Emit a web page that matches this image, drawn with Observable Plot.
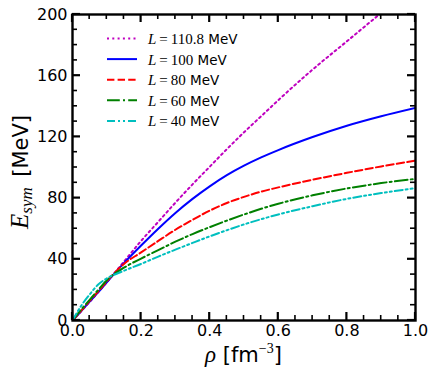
<!DOCTYPE html>
<html><head><meta charset="utf-8">
<script src="https://cdn.jsdelivr.net/npm/d3@7"></script>
<script src="https://cdn.jsdelivr.net/npm/@observablehq/plot@0.6"></script>
<style>
body{margin:0;background:#fff}
#wrap{position:relative;width:436px;height:375px}
</style>
</head><body><div id="wrap"></div>
<script>
const rho = [0, 0.025, 0.05, 0.075, 0.1, 0.15, 0.2, 0.25, 0.3, 0.35, 0.4, 0.45, 0.5, 0.55, 0.6, 0.7, 0.8, 0.9, 1.0];
const eL1108 = [0, 6, 12.2, 18.5, 25, 38.5, 52, 64.5, 77, 89, 100.5, 112, 123, 133.5, 144, 164, 182.5, 201, 219];
const eL100  = [0, 6, 12.3, 18.5, 25, 37.5, 49, 60, 70.3, 79.5, 87.7, 95, 101.2, 106.6, 111.4, 119.9, 127.3, 133.5, 139];
const eL80   = [0, 6.3, 12.8, 19, 25.5, 37, 44.5, 52, 59.3, 65.8, 71.8, 76.8, 80.8, 84.2, 87, 92, 96.5, 100.7, 104.5];
const eL60   = [0, 7, 13.5, 20, 26.3, 34.5, 40.5, 46, 51.5, 56.5, 61, 65.3, 69.3, 73, 76.3, 81.8, 86.3, 89.8, 92.6];
const eL40   = [0, 9.5, 17, 23.5, 27.5, 32.5, 37, 41.8, 46.3, 50.7, 55, 59, 62.8, 66.2, 69.3, 74.7, 79.5, 83.3, 86.5];

const labels = ["110.8", "100", "80", "60", "40"];
const colors = ["#bf00bf", "#0000ff", "#ff0000", "#008000", "#00bfbf"];
const dashes = ["2,3.3", null, "7.4,3.2", "12.8,3.2,2,3.2", "8,3,2,3,2,3"];
const values = [eL1108, eL100, eL80, eL60, eL40];

const xMajor = [0, 0.2, 0.4, 0.6, 0.8, 1.0];
const xMinor = [0.05, 0.1, 0.15, 0.25, 0.3, 0.35, 0.45, 0.5, 0.55, 0.65, 0.7, 0.75, 0.85, 0.9, 0.95];
const yMajor = [0, 40, 80, 120, 160, 200];
const yMinor = [10, 20, 30, 50, 60, 70, 90, 100, 110, 130, 140, 150, 170, 180, 190];

const W = 436, H = 375, mL = 72, mR = 21, mT = 14, mB = 55;
const majL = 8, minL = 5;

const lineMarks = values.map((v, k) => Plot.line(rho.map((r, i) => ({rho: r, E: v[i]})), {
  x: "rho", y: "E", stroke: colors[k], strokeWidth: 2,
  strokeDasharray: dashes[k] || undefined, curve: "monotone-x", clip: true
}));

const chart = Plot.plot({
  width: W, height: H,
  marginLeft: mL, marginRight: mR, marginTop: mT, marginBottom: mB,
  x: {domain: [0, 1]},
  y: {domain: [0, 200]},
  style: {fontFamily: "DejaVu Sans", fontSize: "16px", color: "black", background: "white"},
  marks: [
    ...lineMarks,
    Plot.axisX(xMajor, {anchor: "bottom", tickSize: 0, tickPadding: 4, tickFormat: d3.format(".1f"), label: null, fontSize: 16}),
    Plot.axisY(yMajor, {anchor: "left", tickSize: 0, tickPadding: 5, tickFormat: d3.format("d"), label: null, fontSize: 16}),
    Plot.frame({strokeWidth: 2.4})
  ]
});
document.getElementById("wrap").appendChild(chart);

const svg = d3.select(chart);
const xs = chart.scale("x"), ys = chart.scale("y");
const fx = d3.scaleLinear(xs.domain, xs.range);
const fy = d3.scaleLinear(ys.domain, ys.range);
const x0 = fx(0), x1 = fx(1), y0 = fy(0), y1 = fy(200);

const tg = svg.append("g");
function seg(xa, ya, xb, yb, sw) {
  tg.append("line").attr("x1", xa).attr("y1", ya).attr("x2", xb).attr("y2", yb)
    .attr("stroke", "#000").attr("stroke-width", sw);
}
xMajor.forEach(v => { const p = fx(v); seg(p, y0, p, y0 - majL, 2.2); seg(p, y1, p, y1 + majL, 2.2); });
xMinor.forEach(v => { const p = fx(v); seg(p, y0, p, y0 - minL, 1.6); seg(p, y1, p, y1 + minL, 1.6); });
yMajor.forEach(v => { const p = fy(v); seg(x0, p, x0 + majL, p, 2.2); seg(x1, p, x1 - majL, p, 2.2); });
yMinor.forEach(v => { const p = fy(v); seg(x0, p, x0 + minL, p, 1.6); seg(x1, p, x1 - minL, p, 1.6); });

const serif = "'Liberation Serif', 'DejaVu Serif', serif";
const sans = "'DejaVu Sans', sans-serif";

const lg = svg.append("g").attr("text-anchor", "start");
labels.forEach((lab, k) => {
  const y = 38.5 + k * 20.6;
  lg.append("line").attr("x1", 107).attr("x2", 137).attr("y1", y).attr("y2", y)
    .attr("stroke", colors[k]).attr("stroke-width", 2)
    .attr("stroke-dasharray", dashes[k]);
  const t = lg.append("text").attr("x", 148).attr("y", y).attr("dy", "0.36em")
    .attr("text-anchor", "start").attr("font-size", 15);
  t.append("tspan").attr("font-family", serif).attr("font-style", "italic").text("L");
  t.append("tspan").attr("font-family", serif).text("\u2009=\u2009" + lab);
  t.append("tspan").attr("font-family", sans).attr("font-size", 13.5).text(" MeV");
});

const xl = svg.append("text").attr("x", (x0 + x1) / 2).attr("y", 362).attr("text-anchor", "middle").attr("font-size", 21);
xl.append("tspan").attr("font-family", serif).attr("font-style", "italic").attr("font-size", 23).text("\u03C1");
xl.append("tspan").attr("font-family", sans).text(" [fm");
xl.append("tspan").attr("font-family", serif).attr("font-size", 14).attr("dy", -9).text("\u22123");
xl.append("tspan").attr("font-family", sans).attr("dy", 9).text("]");

const yl = svg.append("text").attr("transform", "translate(28,172) rotate(-90)").attr("text-anchor", "middle").attr("font-size", 21);
yl.append("tspan").attr("font-family", serif).attr("font-style", "italic").attr("font-size", 25).text("E");
yl.append("tspan").attr("font-family", serif).attr("font-style", "italic").attr("font-size", 17).attr("dy", 4).text("sym");
yl.append("tspan").attr("font-family", sans).attr("dy", -4).text("\u2002[MeV]");
</script>
</body></html>
